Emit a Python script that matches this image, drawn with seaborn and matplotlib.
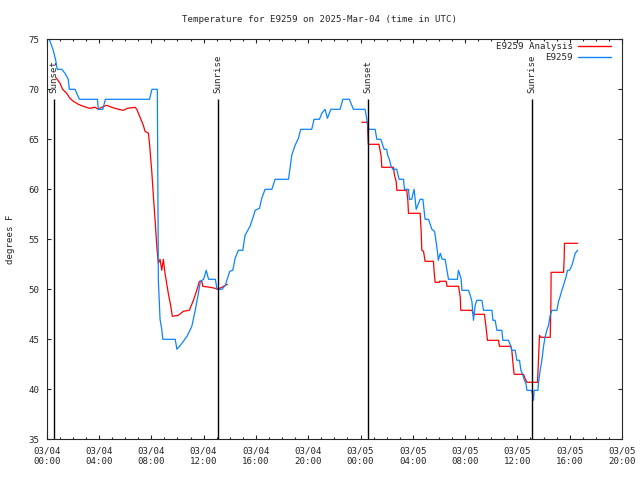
import pandas as pd
import matplotlib
matplotlib.use('Agg')
import matplotlib.pyplot as plt
import matplotlib.dates as mdates
from matplotlib.lines import Line2D
import seaborn as sns

# hours after 2025-03-04 00:00 UTC
obs_hours = [0.2, 0.5, 0.69, 0.8, 1.15, 1.4, 1.65, 1.73, 2.17, 2.5, 3.88, 3.95, 4.29, 4.49,
             7.86, 8.05, 8.46, 8.48, 8.54, 8.67, 8.8, 8.88, 9.83, 9.96, 10.34, 10.73, 11.1,
             11.36, 11.6, 11.75, 12.0, 12.2, 12.38, 12.9, 13.03, 13.4, 13.66, 14.0, 14.23,
             14.41, 14.66, 15.0, 15.17, 15.55, 15.81, 15.94, 16.27, 16.45, 16.7, 17.22, 17.47,
             18.49, 18.61, 18.74, 19.0, 19.25, 19.43, 20.27, 20.45, 20.86, 21.04, 21.29, 21.47,
             21.73, 22.44, 22.65, 23.15, 23.46, 24.35, 24.48, 24.6, 25.12, 25.25, 25.55, 25.81,
             26.0, 26.08, 26.21, 26.32, 26.47, 26.77, 26.95, 27.29, 27.36, 27.67, 27.74, 27.92,
             28.0, 28.1, 28.18, 28.26, 28.44, 28.56, 28.77, 28.94, 29.2, 29.46, 29.66, 29.8,
             29.88, 29.95, 30.1, 30.25, 30.47, 30.73, 31.41, 31.49, 31.57, 31.7, 31.75, 32.26,
             32.39, 32.52, 32.64, 32.77, 32.9, 33.28, 33.41, 34.05, 34.13, 34.3, 34.43, 34.81,
             34.89, 35.32, 35.5, 35.58, 35.83, 35.96, 36.16, 36.27, 36.42, 36.54, 36.65, 36.73,
             37.05, 37.15, 37.23, 37.28, 37.57, 37.61, 37.74, 37.87, 38.0, 38.13, 38.25, 38.38,
             38.51, 38.64, 39.02, 39.15, 39.27, 39.4, 39.53, 39.73, 39.83, 39.99, 40.17, 40.3,
             40.42, 40.6]
obs_temps = [75.0, 73.9, 72.9, 72.0, 72.0, 71.6, 71.0, 70.0, 70.0, 69.0, 69.0, 68.0, 68.0, 69.0,
             69.0, 70.0, 70.0, 65.8, 50.9, 47.0, 46.0, 45.0, 45.0, 44.0, 44.6, 45.3, 46.3,
             47.9, 49.6, 50.8, 51.0, 51.9, 51.0, 51.0, 50.0, 50.0, 50.4, 51.8, 51.9,
             53.1, 53.9, 53.9, 55.4, 56.3, 57.3, 57.9, 58.1, 59.1, 60.0, 60.0, 61.0,
             61.0, 62.1, 63.4, 64.4, 65.1, 66.0, 66.0, 67.0, 67.0, 67.6, 68.0, 67.1,
             68.0, 68.0, 69.0, 69.0, 68.0, 68.0, 67.0, 66.0, 66.0, 65.0, 65.0, 64.0,
             64.0, 63.4, 63.0, 62.4, 62.0, 62.0, 61.0, 61.0, 60.0, 60.0, 59.0, 59.0,
             59.5, 60.0, 59.0, 58.0, 58.6, 59.0, 59.0, 57.0, 57.0, 56.0, 55.8, 54.6,
             53.8, 52.9, 53.6, 53.0, 53.0, 51.0, 51.0, 51.9, 51.6, 51.0, 49.9, 49.9,
             49.4, 48.8, 46.9, 48.4, 48.9, 48.9, 47.9, 47.9, 46.9, 46.9, 45.9, 45.9,
             44.9, 44.9, 44.3, 43.9, 43.9, 42.9, 42.9, 41.9, 41.4, 40.9, 40.6, 39.9,
             39.9, 39.6, 38.9, 39.9, 39.9, 40.6, 41.9, 42.9, 44.3, 45.3, 45.9, 46.4,
             47.4, 47.9, 47.9, 48.8, 49.3, 49.9, 50.4, 51.3, 51.9, 51.9, 52.4, 53.0,
             53.6, 53.9]

ana1_hours = [0.69, 1.02, 1.22, 1.53, 1.78, 2.04, 2.42, 2.8, 3.26, 3.7, 3.95, 4.2, 4.59, 4.97,
              5.48, 5.86, 6.17, 6.76, 6.89, 7.14, 7.39, 7.52, 7.78, 7.86, 8.03, 8.16, 8.29,
              8.42, 8.54, 8.67, 8.8, 8.92, 9.05, 9.3, 9.49, 9.61, 10.07, 10.45, 10.91, 11.22,
              11.48, 11.68, 11.86, 11.94, 12.5, 12.88, 13.05, 13.39, 13.82]
ana1_temps = [71.2, 70.6, 70.0, 69.6, 69.1, 68.8, 68.5, 68.3, 68.1, 68.2, 68.0, 68.2, 68.4, 68.2,
              68.0, 67.9, 68.1, 68.2, 68.0, 67.2, 66.4, 65.8, 65.6, 64.6, 61.9, 59.3, 56.9,
              54.3, 52.6, 53.0, 51.9, 53.0, 51.6, 49.6, 48.3, 47.3, 47.4, 47.8, 47.9, 48.9,
              49.9, 50.8, 50.8, 50.3, 50.2, 50.1, 50.0, 50.2, 50.5]

ana2_hours = [24.1, 24.53, 24.6, 25.41, 25.58, 25.63, 26.52, 26.6, 26.73, 26.78, 27.54, 27.62,
              27.67, 28.56, 28.64, 28.69, 28.82, 28.94, 29.58, 29.63, 29.71, 30.04, 30.05, 30.55,
              30.62, 31.5, 31.63, 31.67, 32.52, 32.64, 33.48, 33.59, 33.71, 34.55, 34.63, 35.5,
              35.58, 35.66, 35.75, 36.47, 36.58, 36.73, 37.54, 37.61, 37.69, 37.8, 38.51, 38.56,
              38.58, 39.53, 39.58, 39.6, 40.6]
ana2_temps = [66.7, 66.7, 64.5, 64.5, 63.3, 62.2, 62.2, 61.4, 60.8, 59.9, 59.9, 58.9,
              57.6, 57.6, 55.8, 53.9, 53.8, 52.8, 52.8, 51.8, 50.7, 50.7, 50.8, 50.8,
              50.3, 50.3, 49.2, 47.9, 47.9, 47.5, 47.5, 46.3, 44.9, 44.9, 44.3, 44.3,
              43.8, 42.6, 41.5, 41.5, 41.1, 40.7, 40.7, 42.9, 45.4, 45.2, 45.2, 48.4,
              51.7, 51.7, 53.2, 54.6, 54.6]

sun_hours = [0.55, 13.12, 24.6, 37.08]
sun_labels = ['Sunset', 'Sunrise', 'Sunset', 'Sunrise']

start = pd.Timestamp('2025-03-04 00:00')
to_time = lambda h: start + pd.to_timedelta(h, unit='h')

obs = pd.DataFrame({'time': to_time(obs_hours), 'temp': obs_temps})
ana = pd.concat([
    pd.DataFrame({'time': to_time(ana1_hours), 'temp': ana1_temps, 'seg': 1}),
    pd.DataFrame({'time': to_time(ana2_hours), 'temp': ana2_temps, 'seg': 2}),
])

red = '#ff0000'
blue = '#0a84ff'

sns.set_style('ticks')
plt.rcParams['font.family'] = ['DejaVu Sans Mono']
fs = 6.6

fig = plt.figure(figsize=(6.4, 4.8), dpi=100)
ax = fig.add_axes([46.7 / 640, 1 - 439.3 / 480, (622 - 46.7) / 640, 400 / 480])

sns.lineplot(data=ana, x='time', y='temp', units='seg', estimator=None, sort=False,
             color=red, linewidth=0.9, ax=ax)
sns.lineplot(data=obs, x='time', y='temp', estimator=None, sort=False,
             color=blue, linewidth=0.9, ax=ax)

for h, lab in zip(sun_hours, sun_labels):
    t = to_time(h)
    ax.vlines(t, 35, 69.0, color='black', linewidth=1.0)
    ax.text(t, 69.65, lab, rotation=90, ha='center', va='bottom', fontsize=fs)

ax.set_xlim(start, to_time(44))
ax.set_ylim(35, 75)
ax.set_yticks(range(35, 80, 5))
ax.xaxis.set_major_locator(mdates.HourLocator(byhour=range(0, 24, 4)))
ax.xaxis.set_minor_locator(mdates.HourLocator())
ax.xaxis.set_major_formatter(mdates.DateFormatter('%m/%d\n%H:%M'))

ax.tick_params(which='both', direction='in', top=True, right=True, labelsize=fs, width=0.8)
ax.tick_params(which='major', length=3.2, pad=5)
ax.tick_params(which='minor', length=1.7)
for s in ax.spines.values():
    s.set_linewidth(0.8)
    s.set_visible(True)

ax.set_xlabel('')
ax.set_ylabel('degrees F', fontsize=fs, labelpad=10)
fig.text(0.5, 1 - 20 / 480, 'Temperature for E9259 on 2025-Mar-04 (time in UTC)',
         ha='center', va='center', fontsize=fs)

handles = [Line2D([], [], color=red, linewidth=1.0), Line2D([], [], color=blue, linewidth=1.0)]
ax.legend(handles, ['E9259 Analysis', 'E9259'], loc='upper right', bbox_to_anchor=(0.985, 1.0),
          frameon=False, markerfirst=False, fontsize=fs, handlelength=3.6,
          handletextpad=0.5, labelspacing=0.25, borderaxespad=0.1, borderpad=0.2)

fig.savefig('out.png', dpi=100)
